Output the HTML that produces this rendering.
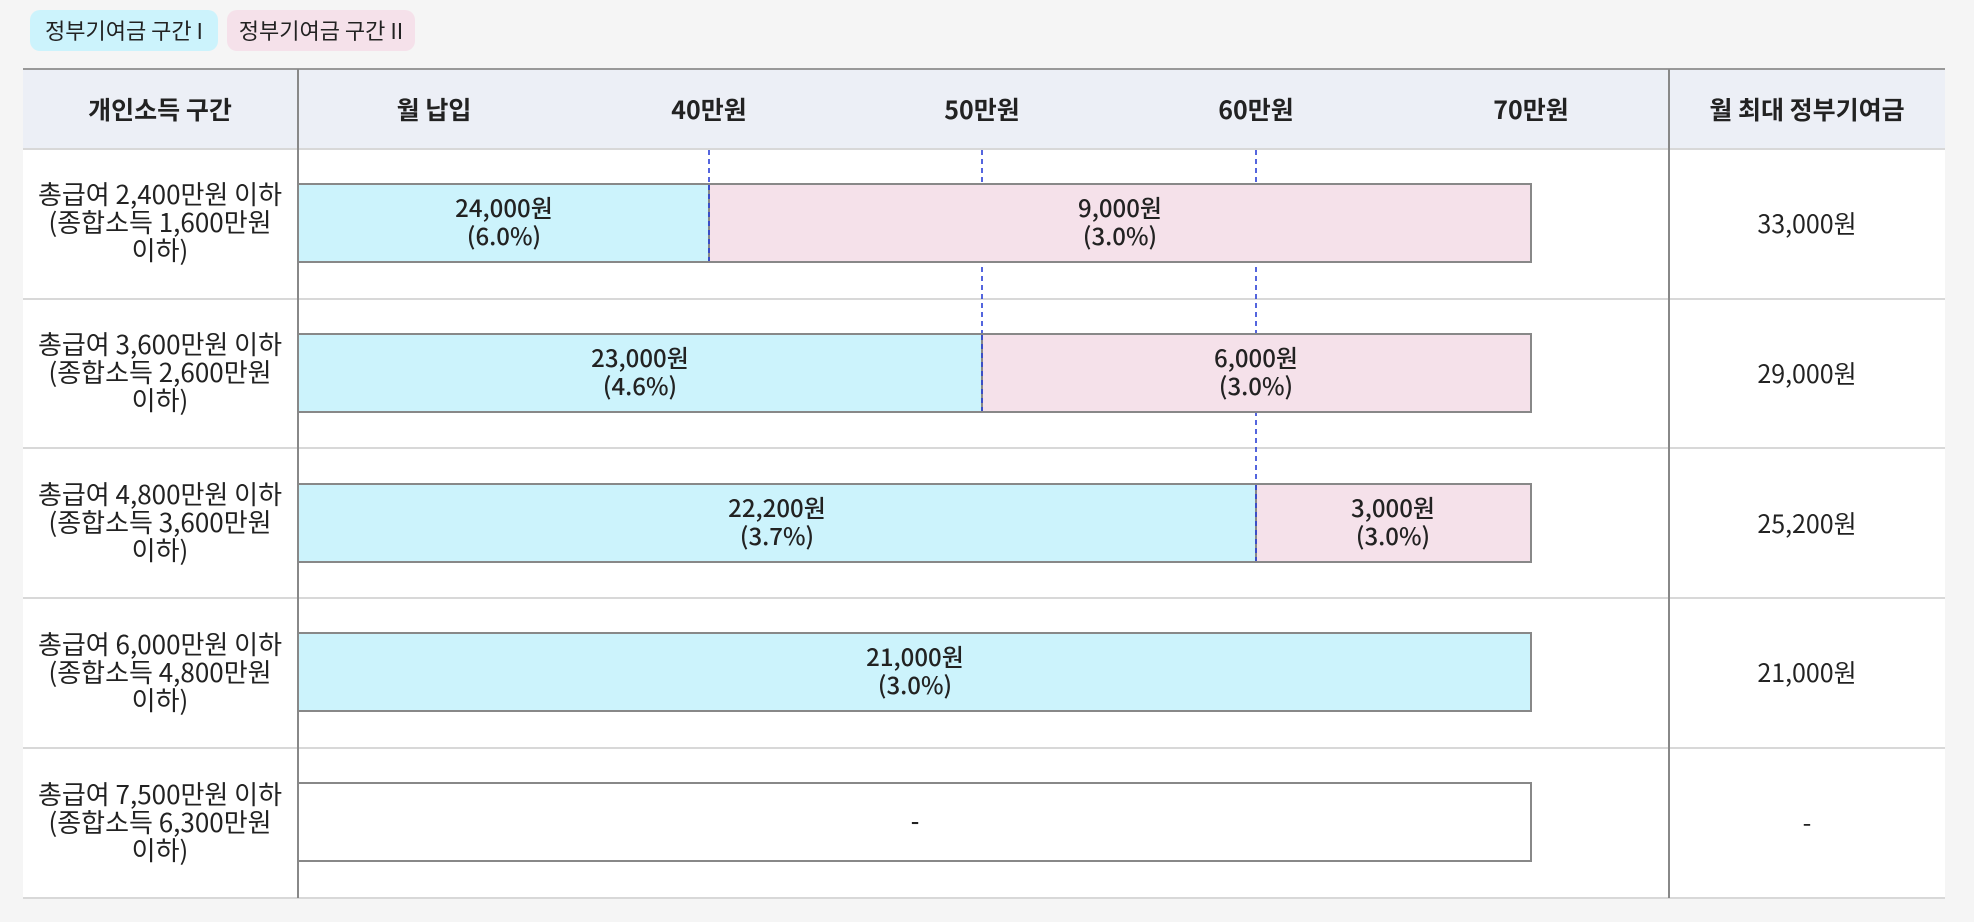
<!DOCTYPE html>
<html><head><meta charset="utf-8"><style>
html,body{margin:0;padding:0;background:#f5f5f5;}
svg{display:block;}
text{font-family:"Noto Sans CJK KR","Liberation Sans",sans-serif;fill:#222;}
</style></head><body>
<svg width="1974" height="922" viewBox="0 0 1974 922" xmlns="http://www.w3.org/2000/svg">
<rect x="0" y="0" width="1974" height="922" fill="#f5f5f5"/>
<rect x="30" y="10" width="188" height="41" rx="10" fill="#ccf3fc"/>
<text x="124" y="39" font-size="22" text-anchor="middle">정부기여금 구간 I</text>
<rect x="227" y="10" width="188" height="41" rx="10" fill="#f5e1ea"/>
<text x="321" y="39" font-size="22" text-anchor="middle">정부기여금 구간 II</text>
<rect x="23" y="69" width="1922" height="830" fill="#fff"/>
<rect x="23" y="69" width="1922" height="80" fill="#eceff6"/>
<line x1="23" y1="69" x2="1945" y2="69" stroke="#999" stroke-width="2"/>
<line x1="23" y1="149" x2="1945" y2="149" stroke="#d8d8d8" stroke-width="2"/>
<g stroke="#d8d8d8" stroke-width="2">
<line x1="23" y1="299" x2="1945" y2="299"/>
<line x1="23" y1="448" x2="1945" y2="448"/>
<line x1="23" y1="598" x2="1945" y2="598"/>
<line x1="23" y1="748" x2="1945" y2="748"/>
<line x1="23" y1="898" x2="1945" y2="898"/>
</g>
<line x1="298" y1="69" x2="298" y2="898" stroke="#888" stroke-width="2"/>
<line x1="1669" y1="69" x2="1669" y2="898" stroke="#888" stroke-width="2"/>
<g font-size="25" font-weight="bold" text-anchor="middle">
<text x="160" y="119">개인소득 구간</text>
<text x="434" y="119">월 납입</text>
<text x="709" y="119">40만원</text>
<text x="982" y="119">50만원</text>
<text x="1256" y="119">60만원</text>
<text x="1531" y="119">70만원</text>
<text x="1807" y="119">월 최대 정부기여금</text>
</g>
<g stroke="#2a3fd6" stroke-width="1.6" stroke-dasharray="5,4">
<line x1="709" y1="150" x2="709" y2="262"/>
<line x1="982" y1="150" x2="982" y2="411"/>
<line x1="1256" y1="150" x2="1256" y2="561"/>
</g>
<g stroke="#888" stroke-width="2">
<rect x="298" y="184" width="411" height="78" fill="#ccf3fc"/>
<rect x="709" y="184" width="822" height="78" fill="#f5e1ea"/>
<rect x="298" y="334" width="684" height="78" fill="#ccf3fc"/>
<rect x="982" y="334" width="549" height="78" fill="#f5e1ea"/>
<rect x="298" y="484" width="958" height="78" fill="#ccf3fc"/>
<rect x="1256" y="484" width="275" height="78" fill="#f5e1ea"/>
<rect x="298" y="633" width="1233" height="78" fill="#ccf3fc"/>
<rect x="298" y="783" width="1233" height="78" fill="#fff"/>
</g>
<g stroke="#2a3fd6" stroke-width="1.6" stroke-dasharray="5,4">
<line x1="709" y1="185" x2="709" y2="261"/>
<line x1="982" y1="335" x2="982" y2="411"/>
<line x1="1256" y1="485" x2="1256" y2="561"/>
</g>
<g font-size="24" font-weight="500" text-anchor="middle">
<text x="504" y="217">24,000원</text><text x="504" y="245">(6.0%)</text>
<text x="1120" y="217">9,000원</text><text x="1120" y="245">(3.0%)</text>
<text x="640" y="367">23,000원</text><text x="640" y="395">(4.6%)</text>
<text x="1256" y="367">6,000원</text><text x="1256" y="395">(3.0%)</text>
<text x="777" y="517">22,200원</text><text x="777" y="545">(3.7%)</text>
<text x="1393" y="517">3,000원</text><text x="1393" y="545">(3.0%)</text>
<text x="915" y="666">21,000원</text><text x="915" y="694">(3.0%)</text>
<text x="915" y="830">-</text>
</g>
<g font-size="26" text-anchor="middle">
<text x="160" y="204">총급여 2,400만원 이하</text><text x="160" y="232">(종합소득 1,600만원</text><text x="160" y="260">이하)</text>
<text x="160" y="354">총급여 3,600만원 이하</text><text x="160" y="382">(종합소득 2,600만원</text><text x="160" y="410">이하)</text>
<text x="160" y="504">총급여 4,800만원 이하</text><text x="160" y="532">(종합소득 3,600만원</text><text x="160" y="560">이하)</text>
<text x="160" y="654">총급여 6,000만원 이하</text><text x="160" y="682">(종합소득 4,800만원</text><text x="160" y="710">이하)</text>
<text x="160" y="804">총급여 7,500만원 이하</text><text x="160" y="832">(종합소득 6,300만원</text><text x="160" y="860">이하)</text>
</g>
<g font-size="25" text-anchor="middle">
<text x="1807" y="233">33,000원</text>
<text x="1807" y="383">29,000원</text>
<text x="1807" y="533">25,200원</text>
<text x="1807" y="682">21,000원</text>
<text x="1807" y="832">-</text>
</g>
</svg>
</body></html>
